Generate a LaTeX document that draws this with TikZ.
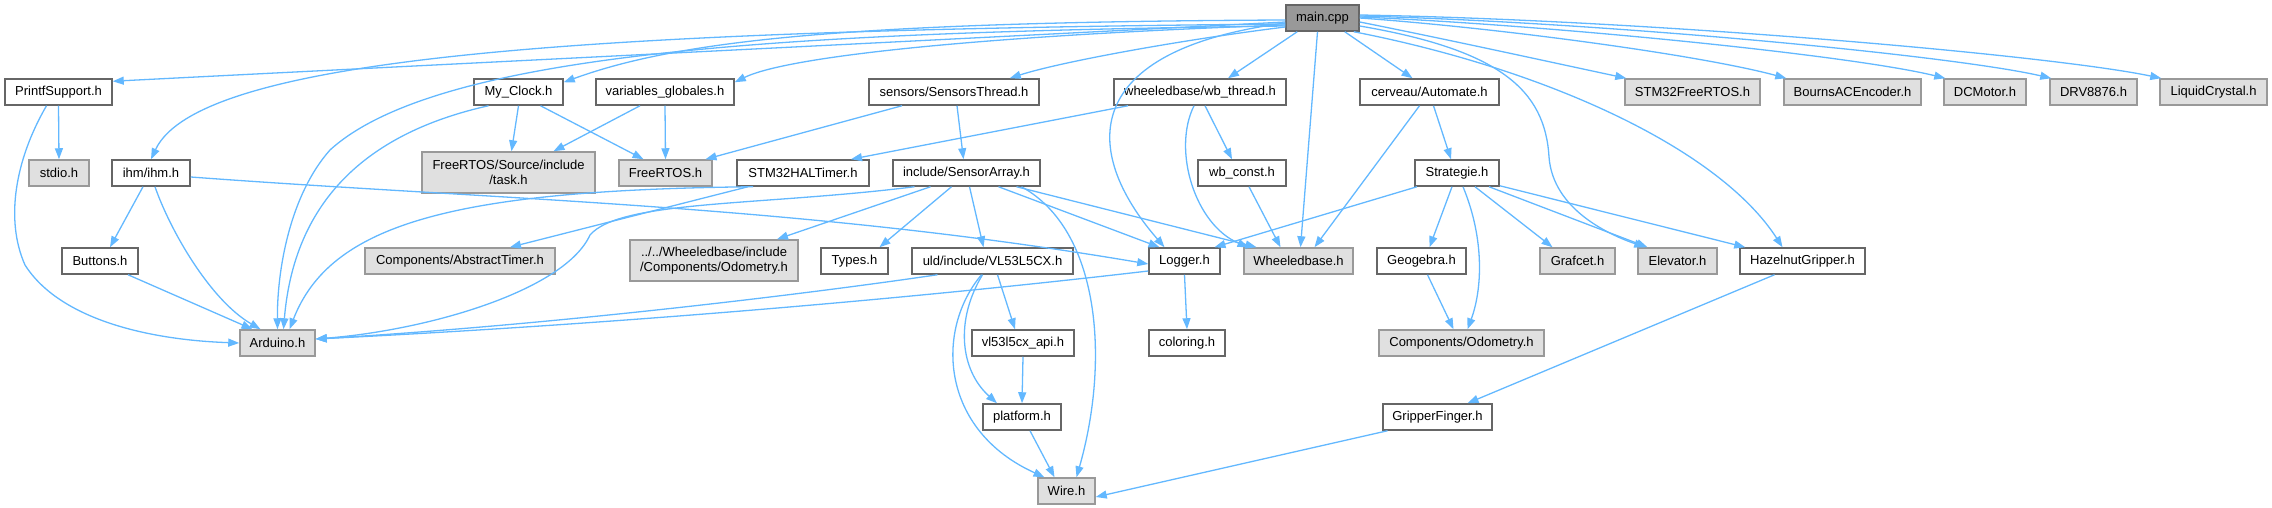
\documentclass[tikz,border=0pt]{standalone}
\usepackage{fontspec}
\setmainfont{Liberation Sans}
\usetikzlibrary{arrows.meta}
\definecolor{edgec}{HTML}{63B8FF}
\definecolor{bdark}{HTML}{666666}
\definecolor{bgray}{HTML}{999999}
\definecolor{fgray}{HTML}{E0E0E0}
\newcommand{\nfs}{\fontsize{13}{15.5}\selectfont}
\begin{document}
\begin{tikzpicture}[x=1pt,y=-1pt,
  wn/.style={draw=bdark, fill=white, line width=1.5pt, minimum height=26pt, inner sep=0pt, font=\nfs, text=black},
  gn/.style={wn, draw=bgray, fill=fgray},
  mn/.style={wn, draw=bdark, fill=bgray},
  tall/.style={minimum height=41pt, align=center},
  e/.style={draw=edgec, line width=1.3pt, -{Triangle[length=11pt,width=8pt]}}]
\useasboundingbox (0,0) rectangle (2272,508);
% rank 0
\node[mn, minimum width=73pt] (main) at (1322.5,18) {main.cpp};
% rank 1
\node[wn, minimum width=107pt] (pf) at (58.5,92) {PrintfSupport.h};
\node[wn, minimum width=89pt] (myclock) at (518.5,92) {My\_Clock.h};
\node[wn, minimum width=138pt] (vg) at (665,92) {variables\_globales.h};
\node[wn, minimum width=170pt] (st) at (954,92) {sensors/SensorsThread.h};
\node[wn, minimum width=172pt] (wbt) at (1200,92) {wheeledbase/wb\_thread.h};
\node[wn, minimum width=139pt] (aut) at (1429.5,92) {cerveau/Automate.h};
\node[gn, minimum width=135pt] (stmf) at (1692.5,92) {STM32FreeRTOS.h};
\node[gn, minimum width=137pt] (bourns) at (1852.5,92) {BournsACEncoder.h};
\node[gn, minimum width=82pt] (dcm) at (1985,92) {DCMotor.h};
\node[gn, minimum width=87pt] (drv) at (2093.5,92) {DRV8876.h};
\node[gn, minimum width=107pt] (lcd) at (2213.5,92) {LiquidCrystal.h};
% rank 2
\node[gn, minimum width=60pt] (stdio) at (59,173) {stdio.h};
\node[wn, minimum width=78pt] (ihm) at (151,173) {ihm/ihm.h};
\node[gn, tall, minimum width=173pt] (task) at (508.5,172.5) {FreeRTOS/Source/include\\/task.h};
\node[gn, minimum width=93pt] (frtos) at (665.5,173) {FreeRTOS.h};
\node[wn, minimum width=132pt] (halt) at (803,173) {STM32HALTimer.h};
\node[wn, minimum width=147pt] (sa) at (966.5,173) {include/SensorArray.h};
\node[wn, minimum width=88pt] (wbc) at (1242,173) {wb\_const.h};
\node[wn, minimum width=84pt] (strat) at (1457,173) {Strategie.h};
% rank 3
\node[wn, minimum width=76pt] (buttons) at (100,261) {Buttons.h};
\node[gn, minimum width=190pt] (abst) at (460,261) {Components/AbstractTimer.h};
\node[gn, tall, minimum width=168pt] (odowb) at (714,260.5) {../../Wheeledbase/include\\/Components/Odometry.h};
\node[wn, minimum width=67pt] (types) at (854.5,261) {Types.h};
\node[wn, minimum width=161pt] (uld) at (992.5,261) {uld/include/VL53L5CX.h};
\node[wn, minimum width=71pt] (logger) at (1184.5,261) {Logger.h};
\node[gn, minimum width=109pt] (wb) at (1298.5,261) {Wheeledbase.h};
\node[wn, minimum width=89pt] (geo) at (1421.5,261) {Geogebra.h};
\node[gn, minimum width=75pt] (graf) at (1577.5,261) {Grafcet.h};
\node[gn, minimum width=79pt] (elev) at (1677.5,261) {Elevator.h};
\node[wn, minimum width=125pt] (hazel) at (1802.5,261) {HazelnutGripper.h};
% rank 4
\node[gn, minimum width=75pt] (ard) at (277.5,343) {Arduino.h};
\node[wn, minimum width=102pt] (vlapi) at (1023,343) {vl53l5cx\_api.h};
\node[wn, minimum width=76pt] (color) at (1187,343) {coloring.h};
\node[gn, minimum width=165pt] (odo) at (1461.5,343) {Components/Odometry.h};
% rank 5
\node[wn, minimum width=78pt] (plat) at (1022,417) {platform.h};
\node[wn, minimum width=109pt] (grip) at (1437.5,417) {GripperFinger.h};
% rank 6
\node[gn, minimum width=57pt] (wire) at (1066.5,491) {Wire.h};

% edges from main
\draw[e] ([yshift=-4pt]main.west) .. controls (900,42) and (450,64) .. ([yshift=-3pt]pf.north east);
\draw[e] ([yshift=-6pt]main.west) .. controls (600,30) and (200,55) .. (ihm.north);
\draw[e] ([yshift=-8pt]main.west) .. controls (800,32) and (440,50) .. (330,150) .. controls (290,195) and (277,270) .. (ard.north);
\draw[e] ([yshift=-2pt]main.west) .. controls (850,22) and (680,40) .. ([yshift=-4pt]myclock.north east);
\draw[e] ([yshift=-7pt]main.west) .. controls (1000,35) and (790,55) .. ([yshift=-4pt]vg.north east);
\draw[e] ([yshift=-9pt]main.west) .. controls (1180,40) and (1060,62) .. ([xshift=-30pt]st.north east);
\draw[e] ([yshift=-5pt]main.west) .. controls (1080,50) and (1080,150) .. ([xshift=-20pt]logger.north);
\draw[e] ([xshift=12pt]main.south west) -- ([xshift=28pt]wbt.north);
\draw[e] ([xshift=-5pt]main.south) -- ([xshift=2pt]wb.north);
\draw[e] ([xshift=-15pt]main.south east) -- ([xshift=-17pt]aut.north);
\draw[e] ([yshift=-4pt]main.east) .. controls (1450,40) and (1550,62) .. ([xshift=2pt]stmf.north west);
\draw[e] (main.east) .. controls (1500,28) and (1700,55) .. ([xshift=3pt]bourns.north west);
\draw[e] ([yshift=1pt]main.east) .. controls (1550,25) and (1850,55) .. ([xshift=2pt]dcm.north west);
\draw[e] ([yshift=2pt]main.east) .. controls (1600,22) and (1950,55) .. ([xshift=2pt]drv.north west);
\draw[e] ([yshift=3pt]main.east) .. controls (1650,20) and (2050,55) .. ([xshift=2pt]lcd.north west);
\draw[e] ([yshift=-8pt]main.east) .. controls (1500,50) and (1545,90) .. (1549,157) .. controls (1553,210) and (1610,235) .. ([xshift=8pt]elev.north west);
\draw[e] ([xshift=-6pt]main.south east) .. controls (1550,70) and (1720,150) .. ([xshift=-20pt]hazel.north);

% PrintfSupport
\draw[e] (pf.south) -- (stdio.north);
\draw[e] ([xshift=-12pt]pf.south) .. controls (15,160) and (5,220) .. (25,265) .. controls (60,320) and (150,340) .. (ard.west);
% ihm
\draw[e] ([xshift=-8pt]ihm.south) -- ([xshift=10pt]buttons.north);
\draw[e] ([xshift=4pt]ihm.south) .. controls (170,230) and (210,300) .. ([xshift=-17pt]ard.north);
\draw[e] ([yshift=-4pt]ihm.east) .. controls (500,200) and (800,205) .. ([yshift=-3pt]logger.west);
\draw[e] ([xshift=28pt]buttons.south) -- ([xshift=-25pt]ard.north);
% My_Clock, variables_globales
\draw[e] (myclock.south) -- ([xshift=3pt]task.north);
\draw[e] ([xshift=22pt]myclock.south) -- ([xshift=-22pt]frtos.north);
\draw[e] ([xshift=-30pt]myclock.south) .. controls (380,130) and (295,190) .. ([xshift=6pt]ard.north);
\draw[e] ([xshift=-25pt]vg.south) -- ([xshift=45pt]task.north);
\draw[e] (vg.south) -- (frtos.north);
% SensorsThread
\draw[e] ([xshift=-52pt]st.south) -- ([xshift=40pt]frtos.north);
\draw[e] ([xshift=3pt]st.south) -- ([xshift=-3pt]sa.north);
% wb_thread
\draw[e] ([xshift=-72pt]wbt.south) -- ([xshift=48pt]halt.north);
\draw[e] ([xshift=5pt]wbt.south) -- ([xshift=-10pt]wbc.north);
\draw[e] ([xshift=-6pt]wbt.south) .. controls (1172,150) and (1195,225) .. ([xshift=-50pt]wb.north);
% STM32HALTimer
\draw[e] ([xshift=-55pt]halt.south) -- ([xshift=50pt]abst.north);
\draw[e] ([xshift=-50pt]halt.south) .. controls (450,190) and (330,225) .. ([xshift=12pt]ard.north);
% SensorArray
\draw[e] ([xshift=-52pt]sa.south) .. controls (760,206) and (620,200) .. (590,235) .. controls (565,290) and (430,330) .. ([yshift=4pt]ard.east);
\draw[e] ([xshift=-36pt]sa.south) -- ([xshift=63pt]odowb.north);
\draw[e] ([xshift=-15pt]sa.south) -- ([xshift=25pt]types.north);
\draw[e] ([xshift=3pt]sa.south) -- ([xshift=-9pt]uld.north);
\draw[e] ([xshift=32pt]sa.south) -- ([xshift=-25pt]logger.north);
\draw[e] ([xshift=50pt]sa.south) -- ([xshift=-42pt]wb.north);
\draw[e] ([xshift=55pt]sa.south) .. controls (1100,230) and (1110,360) .. ([xshift=10pt]wire.north);
% wb_const, Automate
\draw[e] ([xshift=7pt]wbc.south) -- ([xshift=-18pt]wb.north);
\draw[e] ([xshift=-10pt]aut.south) -- ([xshift=16pt]wb.north);
\draw[e] ([xshift=4pt]aut.south) -- ([xshift=-6pt]strat.north);
% Strategie
\draw[e] ([xshift=-40pt]strat.south) -- ([xshift=30pt]logger.north);
\draw[e] ([xshift=-5pt]strat.south) -- ([xshift=8pt]geo.north);
\draw[e] ([xshift=6pt]strat.south) .. controls (1485,240) and (1482,290) .. ([xshift=6pt]odo.north);
\draw[e] ([xshift=18pt]strat.south) -- ([xshift=-25pt]graf.north);
\draw[e] ([xshift=32pt]strat.south) -- ([xshift=-30pt]elev.north);
\draw[e] ([yshift=1pt]strat.south east) -- ([xshift=6pt]hazel.north west);
\draw[e] ([xshift=6pt]geo.south) -- ([xshift=-8pt]odo.north);
\draw[e] ([xshift=-28pt]hazel.south) -- ([xshift=30pt]grip.north);
% VL53L5CX
\draw[e] ([xshift=-55pt]uld.south) .. controls (800,295) and (550,325) .. ([yshift=4pt]ard.east);
\draw[e] ([xshift=5pt]uld.south) -- ([xshift=-8pt]vlapi.north);
\draw[e] ([xshift=-10pt]uld.south) .. controls (955,320) and (960,370) .. ([xshift=-25pt]plat.north);
\draw[e] ([xshift=-11pt]uld.south) .. controls (935,330) and (940,430) .. ([xshift=-22pt]wire.north);
\draw[e] (vlapi.south) -- (plat.north);
\draw[e] ([xshift=8pt]plat.south) -- ([xshift=-12pt]wire.north);
\draw[e] ([xshift=-50pt]grip.south) -- ([yshift=-6pt]wire.east);
% Logger
\draw[e] ([yshift=-10pt]logger.west) .. controls (900,300) and (600,325) .. ([yshift=4pt]ard.east);
\draw[e] (logger.south) -- (color.north);
\end{tikzpicture}
\end{document}
